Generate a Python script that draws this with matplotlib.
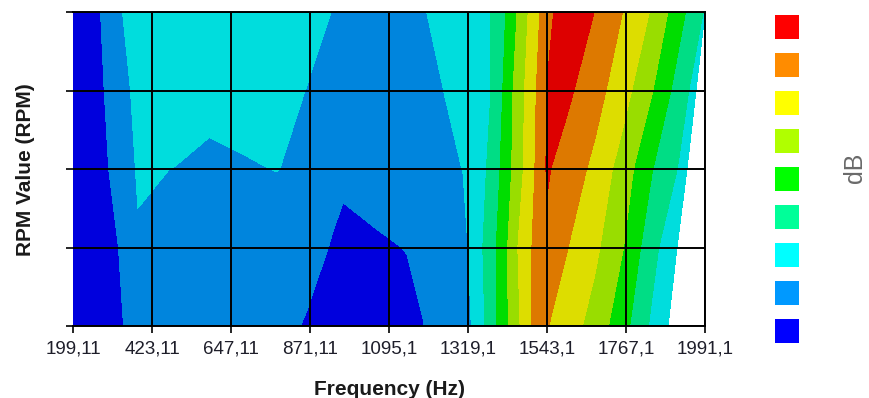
import numpy as np
import matplotlib
matplotlib.use("Agg")
import matplotlib.pyplot as plt
from matplotlib.patches import Rectangle

# RPM rows (bottom to top) and frequency columns of the order map
rpm = [1000, 2000, 3000, 4000, 5000]
freq = [199.11, 276, 341, 383, 491, 585, 681, 778, 860, 936, 965, 1055, 1146,
        1192, 1248, 1305, 1339, 1382, 1421, 1461, 1501, 1543.1, 1600, 1679,
        1759, 1841]
# last measured frequency of each RPM row (bottom to top)
freq_end = [1886.2, 1911.7, 1940.0, 1965.6, 1991.1]

# dB level per row, bottom row first
db_1000 = [42.5, 43, 44.95, 46.5, 47, 47, 46.75, 46, 44.75, 43.5, 43.25, 43, 44,
           44.9, 47, 47.5, 51.15, 57.1, 63.2, 69.15, 75.1, 75.25, 72.5, 68,
           61.75, 54.05, 50.25]
db_2000 = [42.5, 43, 45.5, 49.5, 48.5, 48, 47.5, 47.5, 46.25, 44.75, 44, 44.5,
           45.1, 46, 47.5, 48.35, 52.35, 57.5, 63.2, 70.1, 75.1, 79, 75.15,
           71.05, 65.1, 56.65, 50.5]
db_3000 = [42.5, 43.5, 47.5, 50.5, 49.9, 49, 49.65, 50.1, 49, 46, 45.75, 46.5,
           47.5, 48, 48.5, 50.1, 52.4, 55.85, 61.65, 67.75, 73.75, 80.5, 77.85,
           73.8, 67.7, 60.2, 53]
db_4000 = [42.5, 44.25, 48.5, 51.5, 52.25, 51.5, 51.5, 51.5, 49.95, 48.5, 48,
           47.5, 48, 49, 49.95, 52.05, 53.25, 54.8, 60.5, 67.5, 73, 80.25, 81,
           76.95, 72, 65.25, 53]
db_5000 = [42.5, 44.9, 50.1, 51.5, 52.5, 52.5, 52.5, 52.5, 51.5, 49.9, 49, 48,
           49, 49.75, 51.2, 52.75, 53.65, 54.75, 59.25, 65.45, 71.8, 78, 84,
           79.9, 74.9, 69.5, 54.5]

levels = [40, 45, 50, 55, 60, 65, 70, 75, 80, 85]
tick_freq = [199.11, 423.11, 647.11, 871.11, 1095.1, 1319.1, 1543.1, 1767.1, 1991.1]
tick_labels = ["199,11", "423,11", "647,11", "871,11", "1095,1", "1319,1",
               "1543,1", "1767,1", "1991,1"]

# shaded fill colours and the brighter key colours, low to high
fill_colors = ["#0000DD", "#0085DD", "#00DDDD", "#00DD85", "#00DD00",
               "#99DD00", "#DDDD00", "#DD7900", "#DD0000"]
key_colors = ["#0000FF", "#0099FF", "#00FFFF", "#00FF99", "#00FF00",
              "#B0FF00", "#FFFF00", "#FF8C00", "#FF0000"]

plt.rcParams["font.family"] = ["Liberation Sans", "DejaVu Sans"]

Z = np.array([db_1000, db_2000, db_3000, db_4000, db_5000])
X = np.array([freq + [fe] for fe in freq_end])
Y = np.repeat(np.array(rpm, dtype=float)[:, None], X.shape[1], axis=1)

W, H = 869, 398
fig = plt.figure(figsize=(W / 100, H / 100), dpi=100)
ax = fig.add_axes([73 / W, (H - 326) / H, 632 / W, 314 / H])

ax.contourf(X, Y, Z, levels=levels, colors=fill_colors)

ax.set_xlim(tick_freq[0], tick_freq[-1])
ax.set_ylim(rpm[0], rpm[-1])
ax.set_xticks(tick_freq)
ax.set_xticklabels(tick_labels)
ax.set_yticks(rpm)
ax.set_yticklabels([])
ax.set_axisbelow(False)
ax.grid(True, color="black", linewidth=1.4)
ax.get_xgridlines()[0].set_visible(False)
for s in ax.spines.values():
    s.set_color("black")
    s.set_linewidth(1.4)
ax.spines["left"].set_visible(False)
ax.tick_params(direction="out", length=5, width=1.2, color="black",
               labelsize=13.5, labelcolor="#1e1e2a", pad=5.4)

fig.text(390 / W, (H - 395) / H, "Frequency (Hz)", ha="center", va="baseline",
         fontsize=15, fontweight="bold", color="#1a1a1a")
fig.text(31 / W, (H - 169.5) / H, "RPM Value (RPM)", rotation=90,
         rotation_mode="anchor", ha="center", va="baseline",
         fontsize=15, fontweight="bold", color="#1a1a1a")

# colour key: one square per dB band, highest on top
kax = fig.add_axes([775 / W, (H - 343) / H, 24 / W, 328 / H])
kax.set_xlim(0, 24)
kax.set_ylim(0, 328)
kax.axis("off")
for i, c in enumerate(key_colors):
    kax.add_patch(Rectangle((0, i * 38), 24, 24, facecolor=c, edgecolor="none"))

fig.text(855 / W, (H - 168) / H, "dB", rotation=90, ha="center", va="center",
         fontsize=18, color="#6a6a6a")

fig.savefig("out.png", dpi=100)
